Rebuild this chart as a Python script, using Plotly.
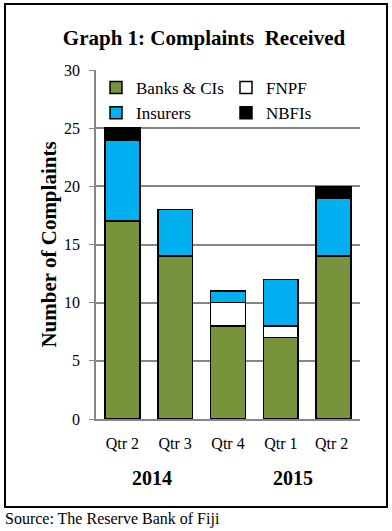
import plotly.graph_objects as go

quarters = ["Qtr 2", "Qtr 3", "Qtr 4", "Qtr 1", "Qtr 2 "]
years = ["2014", "2015"]
banks = [17, 14, 8, 7, 14]
fnpf = [0, 0, 2, 1, 0]
insurers = [7, 4, 1, 4, 5]
nbfis = [1, 0, 0, 0, 1]
y_ticks = [0, 5, 10, 15, 20, 25, 30]

W, H = 392, 531
L, R, T, B = 96, 360, 70, 419  # plot area pixels


def px(x):
    return (x - L) / (R - L)


def py(y):
    return (B - y) / (B - T)


FONT = "Liberation Serif"
series = [
    ("Banks & CIs", banks, "#77933C"),
    ("FNPF", fnpf, "#FFFFFF"),
    ("Insurers", insurers, "#00B0F0"),
    ("NBFIs", nbfis, "#000000"),
]

fig = go.Figure()
for name, vals, col in series:
    fig.add_trace(go.Bar(
        name=name, x=quarters, y=vals,
        marker=dict(color=col, line=dict(color="#000000", width=1.5)),
    ))

fig.update_layout(
    width=W, height=H,
    barmode="stack", bargap=0.34,
    paper_bgcolor="white", plot_bgcolor="white",
    margin=dict(l=L, r=W - R, t=T, b=H - B, pad=0),
    font=dict(family=FONT, size=16, color="#000000"),
    title=dict(text="<b>Graph 1: Complaints&nbsp; Received</b>", x=px(204), xref="paper",
               xanchor="center", y=1 - 38 / H, yanchor="middle",
               font=dict(family=FONT, size=21, color="#000000")),
    legend=dict(orientation="h", x=0.0, y=1.0, xanchor="left", yanchor="top",
                entrywidth=85, entrywidthmode="pixels",
                font=dict(family=FONT, size=17, color="#000000"),
                bgcolor="rgba(0,0,0,0)", traceorder="normal",
                itemclick=False, tracegroupgap=0),
    showlegend=True,
)
fig.update_xaxes(showline=True, linecolor="#868686", linewidth=1.5,
                 ticks="", showgrid=False, tickfont=dict(family=FONT, size=16),
                 ticklabelstandoff=9)
fig.update_yaxes(range=[0, 30], tickvals=y_ticks, showline=True,
                 linecolor="#868686", linewidth=1.5, showgrid=True,
                 gridcolor="#868686", gridwidth=1.5, ticks="outside",
                 ticklen=5, tickcolor="#868686", tickfont=dict(family=FONT, size=16),
                 ticklabelstandoff=6, zeroline=False,
                 title=dict(text="<b>Number of Complaints</b>",
                            font=dict(family=FONT, size=21), standoff=2))

for yr, cx in zip(years, [152, 293]):
    fig.add_annotation(text="<b>" + yr + "</b>", x=px(cx), y=py(478), xref="paper",
                       yref="paper", xanchor="center", yanchor="middle",
                       showarrow=False, font=dict(family=FONT, size=20))
fig.add_annotation(text="Source: The Reserve Bank of Fiji", x=px(3), y=py(519),
                   xref="paper", yref="paper", xanchor="left", yanchor="middle",
                   showarrow=False, font=dict(family=FONT, size=16))
fig.add_shape(type="rect", xref="paper", yref="paper",
              x0=px(5), x1=px(387), y0=py(507), y1=py(4),
              line=dict(color="#000000", width=2), layer="below")

fig.write_html("out.html", config={"displayModeBar": False},
               post_script="document.body.style.margin='0';")
